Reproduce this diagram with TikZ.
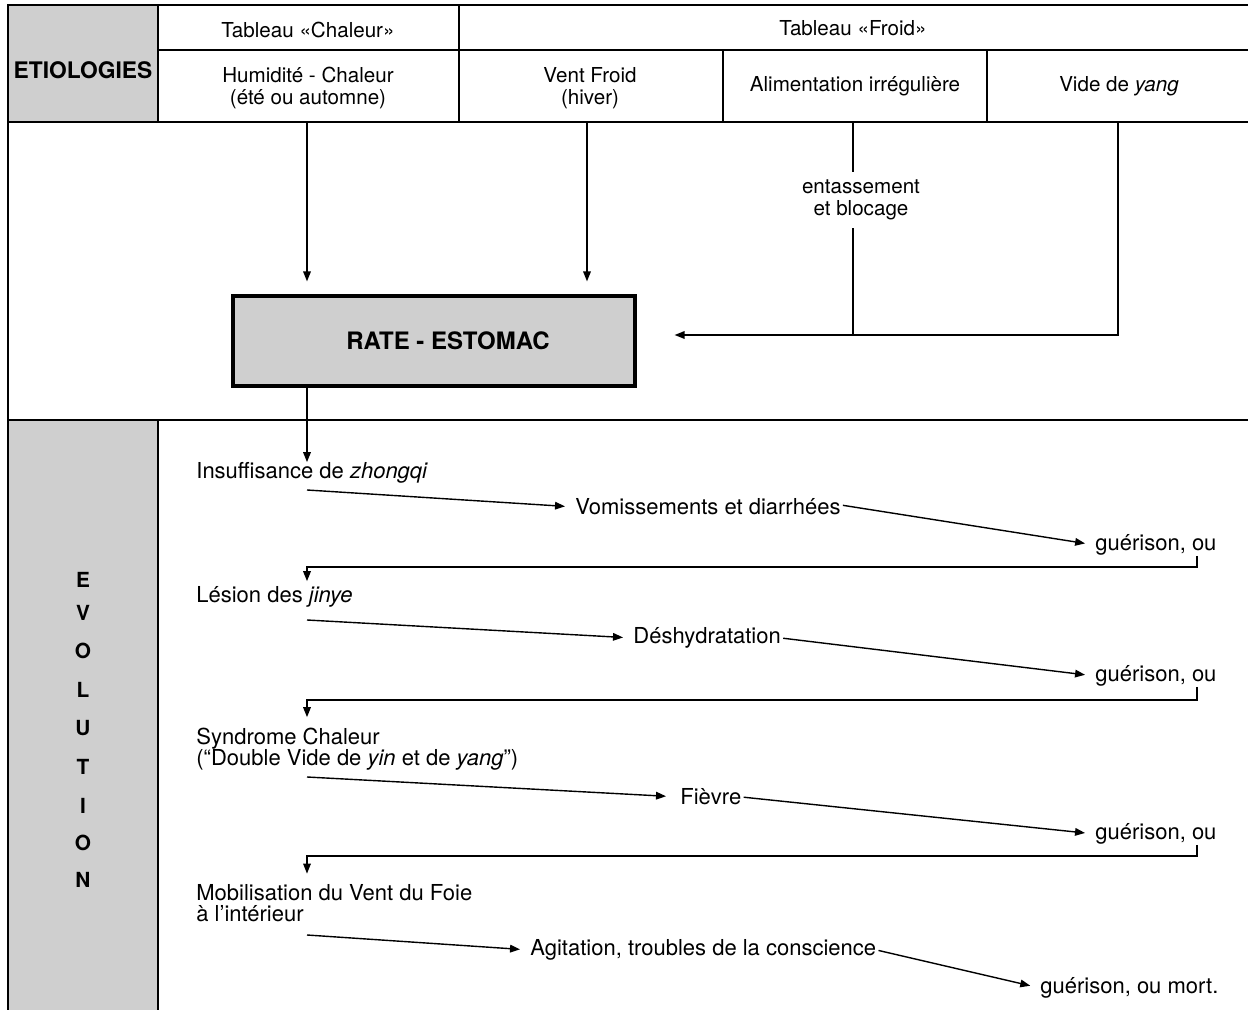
\documentclass[tikz,border=0pt]{standalone}
\usepackage{fontspec}
\setmainfont{TeX Gyre Heros}
\usetikzlibrary{arrows.meta,calc}
\begin{document}
\begin{tikzpicture}[x=0.5pt,y=-0.5pt,
  every node/.style={inner sep=0pt},
  hd/.style={font=\fontsize{10.3}{10.8}\selectfont, align=center},
  ev/.style={font=\fontsize{11}{10.8}\selectfont, anchor=west, align=left},
  bigb/.style={font=\fontsize{11.4}{12}\selectfont\bfseries},
  letter/.style={font=\fontsize{10.4}{12}\selectfont\bfseries},
  shade/.style={fill=black!19},
  frame/.style={line width=0.8pt},
  ln/.style={line width=0.7pt},
  arr/.style={ln, -{Triangle[length=5pt,width=3.8pt]}}]
\useasboundingbox (0,0) rectangle (1248,1010);
% shaded cells
\fill[shade] (8,5) rectangle (158,122);
\fill[shade] (8,420) rectangle (158,1010);
% grid
\draw[frame] (8,1010) -- (8,5) -- (1248,5);
\draw[frame] (158,5) -- (158,122);
\draw[frame] (158,50) -- (1248,50);
\draw[frame] (8,122) -- (1248,122);
\draw[frame] (459,5) -- (459,122);
\draw[frame] (723,50) -- (723,122);
\draw[frame] (987,50) -- (987,122);
\draw[frame] (8,420) -- (1248,420);
\draw[frame] (158,420) -- (158,1010);
% header texts
\node[bigb] (etio) at (83,70) {ETIOLOGIES};
\node[hd] (tch) at (308,30) {Tableau «Chaleur»};
\node[hd] (tfr) at (853,28) {Tableau «Froid»};
\node[hd] (hc) at (308,88) {Humidité - Chaleur\\(été ou automne)};
\node[hd] (vf) at (590,88) {Vent Froid\\(hiver)};
\node[hd] (al) at (855,86) {Alimentation irrégulière};
\node[hd] (vy) at (1119,86) {Vide de \textit{yang}};
% central box
\node[draw, line width=1.6pt, shade, minimum width=201pt, minimum height=45pt,
      font=\fontsize{12}{14}\selectfont\bfseries] (rate) at (434,341) {\hspace*{14pt}RATE - ESTOMAC};
% etiology connectors
\coordinate (hcb) at (307,122);
\coordinate (vfb) at (587,122);
\coordinate (alb) at (853,122);
\coordinate (vyb) at (1118,122);
\coordinate (alc) at (853,335);
\coordinate (vyc) at (1118,335);
\node[hd, inner sep=4pt] (ent) at (861,200) {entassement\\et blocage};
\draw[arr, shorten >=6.5pt] (hcb) -- (hcb |- rate.north);
\draw[arr, shorten >=6.5pt] (vfb) -- (vfb |- rate.north);
\draw[ln] (alb) -- (alb |- ent.north);
\draw[ln] (alb |- ent.south) -- (alc);
\draw[arr, shorten >=19pt] (vyb) -- (vyc) -- (vyc -| rate.east);
% evolution letters
\foreach \l/\yy [count=\i] in {E/580,V/613,O/651,L/690,U/728,T/767,I/806,O/843,N/880}
  \node[letter] (ev\i) at (83,\yy) {\l};
% evolution nodes
\node[ev] (i1) at (196,473) {Insuffisance de \textit{zhongqi}};
\node[ev] (s1) at (575,507) {Vomissements et diarrhées};
\node[ev] (g1) at (1095,545) {guérison, ou};
\node[ev] (i2) at (196,597) {Lésion des \textit{jinye}};
\node[ev] (s2) at (633,638) {Déshydratation};
\node[ev] (g2) at (1095,676) {guérison, ou};
\node[ev] (i3) at (196,749) {Syndrome Chaleur\\(“Double Vide de \textit{yin} et de \textit{yang}”)};
\node[ev] (s3) at (680,797) {Fièvre};
\node[ev] (g3) at (1095,834) {guérison, ou};
\node[ev] (i4) at (196,903) {Mobilisation du Vent du Foie\\à l’intérieur};
\node[ev] (s4) at (530,950) {Agitation, troubles de la conscience};
\node[ev] (g4) at (1040,988) {guérison, ou mort.};
% rate -> i1
\draw[arr] (rate.south -| hcb) -- (hcb |- i1.north);
% arrow starts
\coordinate (a1) at (307,490);
\coordinate (a2) at (307,620);
\coordinate (a3) at (307,777);
\coordinate (a4) at (307,935);
\draw[arr, shorten >=5pt] (a1) -- (s1.west);
\draw[arr, shorten >=5pt] (a2) -- (s2.west);
\draw[arr, shorten >=7pt] (a3) -- (s3.west);
\draw[arr, shorten >=5pt] (a4) -- (s4.west);
\draw[arr, shorten <=1pt, shorten >=5pt] ([yshift=1pt]s1.east) -- (g1.west);
\draw[arr, shorten <=1pt, shorten >=5pt] (s2.east) -- (g2.west);
\draw[arr, shorten <=1pt, shorten >=5pt] (s3.east) -- (g3.west);
\draw[arr, shorten <=1pt, shorten >=5pt] (s4.east) -- (g4.west);
% return connectors
\coordinate (r1) at (1197,567);
\coordinate (r2) at (1197,700);
\coordinate (r3) at (1197,856);
\draw[arr, shorten >=2.5pt] (g1.south -| r1) -- (r1) -- (r1 -| hcb) -- (hcb |- i2.north);
\draw[arr, shorten >=5pt] (g2.south -| r2) -- (r2) -- (r2 -| hcb) -- (hcb |- i3.north);
\draw[arr, shorten >=5pt] (g3.south -| r3) -- (r3) -- (r3 -| hcb) -- (hcb |- i4.north);
\end{tikzpicture}
\end{document}
